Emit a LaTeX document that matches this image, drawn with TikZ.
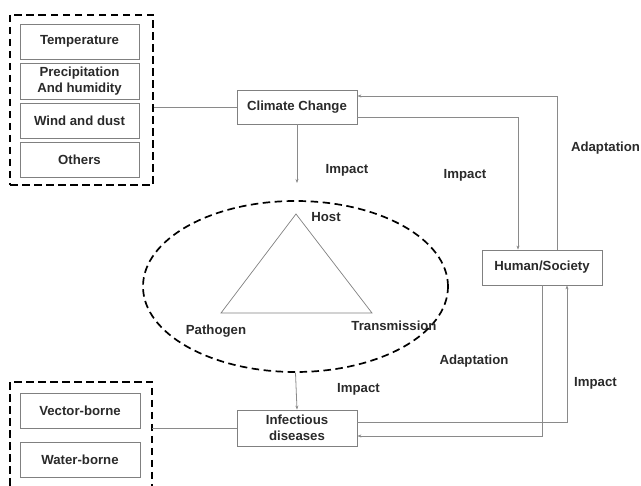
\documentclass[tikz,border=0pt]{standalone}
\usepackage{fontspec}
\setmainfont{Liberation Sans}
\usetikzlibrary{shapes.geometric,arrows.meta}
\definecolor{boxgray}{HTML}{808080}
\definecolor{linegray}{HTML}{8A8A8A}
\definecolor{txt}{HTML}{2A2A2A}
\tikzset{
  lbl/.style={font=\fontsize{13.2}{15.5}\selectfont\bfseries, text=txt, inner sep=0pt, align=center},
  box/.style={draw=boxgray, line width=0.8pt, fill=white, lbl, minimum width=120pt, minimum height=35pt},
  grp/.style={draw=black, line width=1.7pt, dash pattern=on 7.5pt off 4.5pt},
  conn/.style={draw=linegray, line width=0.8pt},
  arr/.style={conn, -{Stealth[length=4pt,width=3pt]}},
}
\begin{document}
\begin{tikzpicture}[x=1pt,y=-1pt]
\useasboundingbox (0,0) rectangle (641,486);
% top group
\node[grp, minimum width=143pt, minimum height=170pt, inner sep=0pt] (topgrp) at (81.5,100) {};
\node[box, minimum width=119pt] (temp) at (79.5,41.5) {Temperature};
\node[box, minimum width=119pt, minimum height=36pt] (prec) at (79.5,81) {Precipitation\\And humidity};
\node[box, minimum width=119pt] (wind) at (79.5,120.5) {Wind and dust};
\node[box, minimum width=119pt] (oth) at (79.5,159.5) {Others};
% bottom group (open at bottom)
\draw[grp] (10,486) -- (10,382) -- (152,382) -- (152,486);
\coordinate (lowright) at (152,429);
\node[box] (vec) at (80,411) {Vector-borne};
\node[box] (wat) at (80,459.5) {Water-borne};
% main boxes
\node[box, minimum height=34pt] (cc) at (297,107) {Climate Change};
\node[box] (hs) at (542,267.5) {Human/Society};
\node[box, minimum height=36pt] (inf) at (297,428) {Infectious\\diseases};
% ellipse and triangle
\node[grp, ellipse, minimum width=305pt, minimum height=171pt, inner sep=0pt] (tri) at (295.5,286.5) {};
\coordinate (th) at (296,214);
\coordinate (tl) at (221,313);
\coordinate (tr) at (372,313);
\draw[draw=boxgray, line width=0.7pt] (th) -- (tl) -- (tr) -- cycle;
\node[lbl] (lhost) at (326,217) {Host};
\node[lbl] (lpath) at (216,331) {Pathogen};
\node[lbl] (ltran) at (394,326) {Transmission};
% connectors
\draw[conn] (cc.west) -- (cc.west -| topgrp.east);
\draw[conn] (inf.west) -- (inf.west -| lowright);
\coordinate (impend) at (297,183);
\draw[arr] (cc.south) -- (impend);
\draw[arr] (tri.south) -- (inf.north);
\draw[arr] ([xshift=15pt]hs.north) |- ([yshift=11pt]cc.east);
\draw[arr] ([yshift=-10pt]cc.east) -| ([xshift=-24pt]hs.north);
\draw[arr] ([yshift=6pt]inf.east) -| ([xshift=25pt]hs.south);
\draw[arr] (hs.south) |- ([yshift=-8pt]inf.east);
% labels
\node[lbl] (l1) at (347,170) {Impact};
\node[lbl] (l2) at (465,175) {Impact};
\node[lbl] (l3) at (605.5,148) {Adaptation};
\node[lbl] (l4) at (358.5,389) {Impact};
\node[lbl] (l5) at (474,361) {Adaptation};
\node[lbl] (l6) at (595.5,383) {Impact};
\end{tikzpicture}
\end{document}
